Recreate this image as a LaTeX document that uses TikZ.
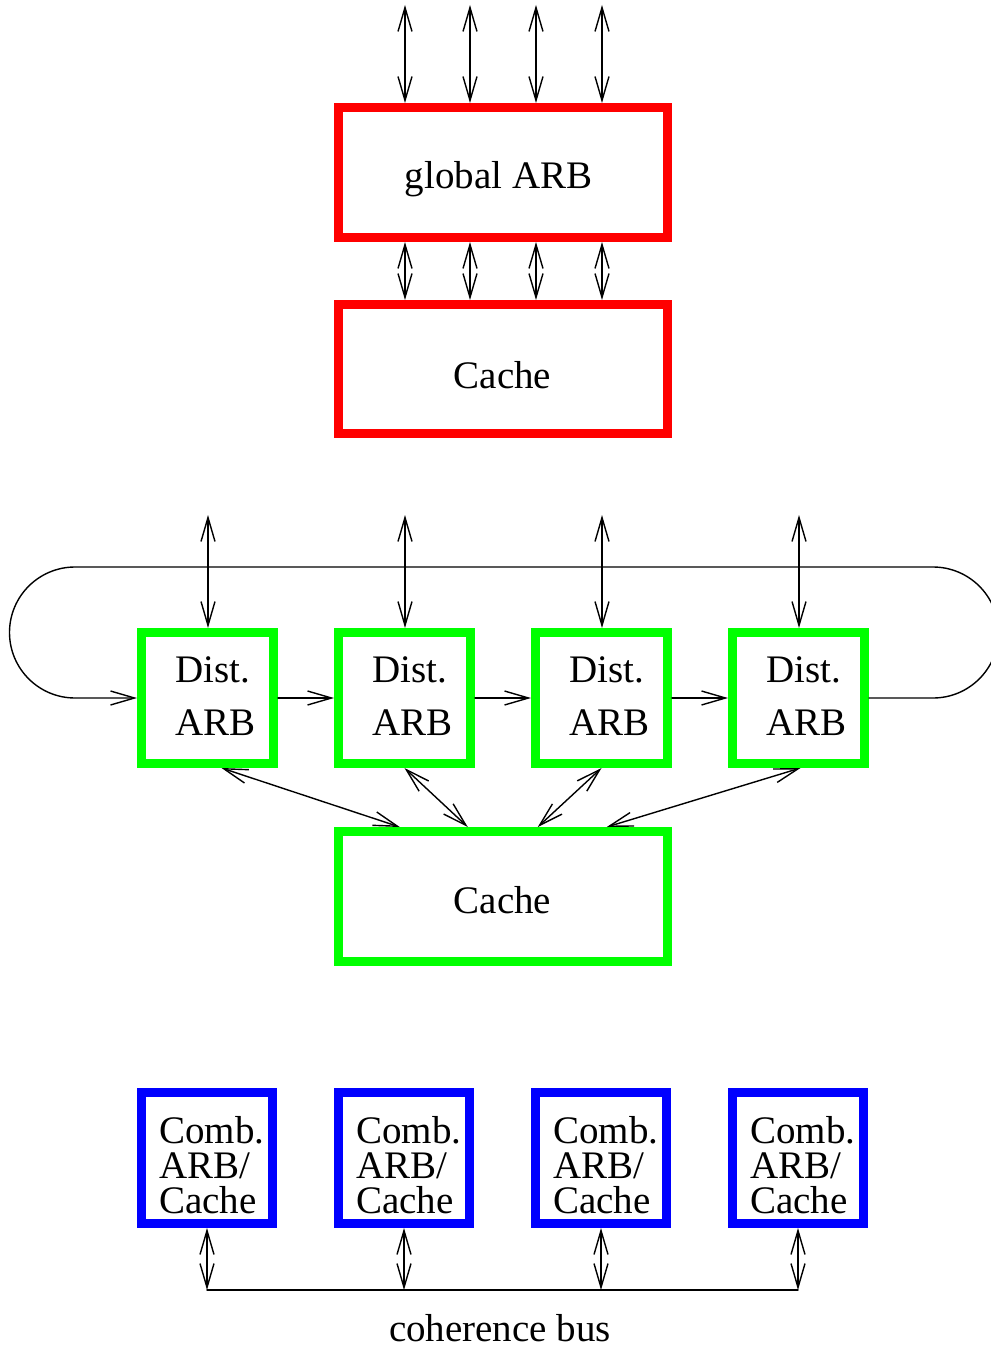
\documentclass[tikz,border=0pt]{standalone}
\usepackage{fontspec}
\setmainfont{Liberation Serif}
\usetikzlibrary{arrows.meta}
\definecolor{pred}{RGB}{255,0,0}
\definecolor{pgreen}{RGB}{0,255,0}
\definecolor{pblue}{RGB}{0,0,255}
\begin{document}
\begin{tikzpicture}[x=1pt,y=-1pt,
  every node/.style={font=\fontsize{39}{39}\selectfont},
  unitbox/.style={draw, rectangle, line width=9pt, inner sep=0pt},
  widebox/.style={unitbox, minimum width=328.5pt, minimum height=130pt},
  smallbox/.style={unitbox, minimum width=132pt, minimum height=131pt},
  wire/.style={line width=1.4pt, line cap=round},
  one/.style={wire, -{Straight Barb[length=24pt,width=14pt]}},
  two/.style={wire, {Straight Barb[length=24pt,width=14pt]}-{Straight Barb[length=24pt,width=14pt]}},
  lbl/.style={anchor=base west, inner sep=0pt, text height=27pt, text depth=0pt},
  stack/.style={anchor=north west, inner sep=0pt, align=left,
    font=\fontsize{39}{35}\selectfont}
]
\useasboundingbox (0,0) rectangle (990,1348);

% --- global ARB and its cache ---
\node[widebox, draw=pred] (g) at (502.75,172.5) {};
\node[anchor=base, inner sep=0pt] (gt) at (498.5,189) {global ARB};
\node[widebox, draw=pred, minimum height=129pt] (rc) at (502.75,369) {};
\node[anchor=base, inner sep=0pt] (rct) at (502.5,388) {Cache};

\foreach \i/\x in {1/405,2/470,3/536,4/602} {
  \coordinate (t\i) at (\x,5);
  \draw[two] (t\i) -- (t\i |- g.north);
  \draw[two] (g.south -| t\i) -- (rc.north -| t\i);
}

% --- distributed ARBs sharing one cache ---
\foreach \i/\x in {1/207.5,2/404.5,3/601.5,4/798.5} {
  \node[smallbox, draw=pgreen] (d\i) at (\x,698) {};
  \node[lbl] (dt\i) at (\x-32.5,682) {Dist.};
  \node[lbl] (da\i) at (\x-32.5,735) {ARB};
  \coordinate (u\i) at (\x+0.5,515);
  \draw[two] (u\i) -- (u\i |- d\i.north);
}
\node[widebox, draw=pgreen] (gc) at (502.75,896.5) {};
\node[anchor=base, inner sep=0pt] (gct) at (502.5,913) {Cache};

\draw[one] (d1.east) -- (d2.west);
\draw[one] (d2.east) -- (d3.west);
\draw[one] (d3.east) -- (d4.west);
\coordinate (rr) at (933,698);
\coordinate (ll) at (75,567);
\draw[one] (d4.east) -- (rr) arc[start angle=-90, end angle=90, radius=65.5pt]
  -- (ll) arc[start angle=90, end angle=270, radius=65.5pt] -- (d1.west);

\draw[two] ([xshift=14pt]d1.south) -- ([xshift=-103pt]gc.north);
\draw[two] (d2.south) -- ([xshift=-35pt]gc.north);
\draw[two] (d3.south) -- ([xshift=35pt]gc.north);
\draw[two] ([xshift=2pt]d4.south) -- ([xshift=104pt]gc.north);

% --- combined ARB/cache units on a coherence bus ---
\foreach \i/\x in {1/207,2/404,3/601,4/798} {
  \node[smallbox, draw=pblue, minimum width=131pt] (b\i) at (\x,1158) {};
  \node[stack] (bt\i) at (\x-48,1116) {Comb.\\ARB/\\Cache};
  \coordinate (s\i) at (\x,1290);
  \draw[two] (b\i.south) -- (s\i);
}
\draw[wire] (s1) -- (s4);
\node[anchor=base, inner sep=0pt, text depth=0pt] (bus) at (500,1341) {coherence bus};
\end{tikzpicture}
\end{document}
